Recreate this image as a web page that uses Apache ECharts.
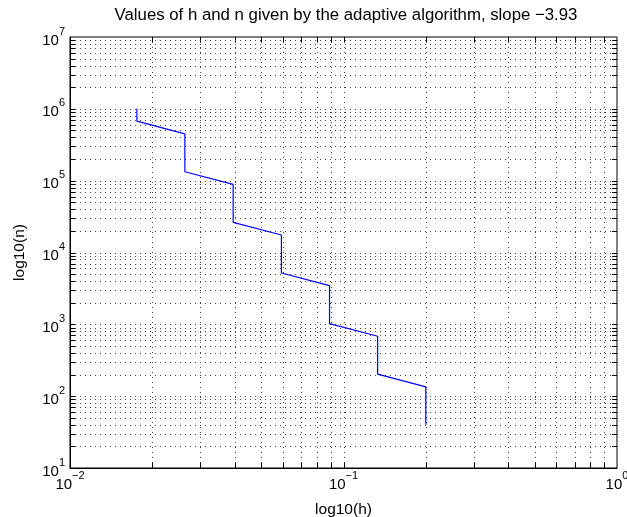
<!DOCTYPE html>
<html>
<head>
<meta charset="utf-8">
<script src="https://cdn.jsdelivr.net/npm/echarts@6/dist/echarts.min.js"></script>
<style>html,body{margin:0;padding:0;background:#fff}#c{width:627px;height:517px}</style>
</head>
<body>
<div id="c"></div>
<script>
// step size h and number of points n produced by the adaptive algorithm
const hValues = [0.2, 0.2, 0.1333, 0.1333, 0.0889, 0.0889, 0.0593, 0.0593, 0.0395, 0.0395, 0.0263, 0.0263, 0.01756, 0.01756];
const nValues = [40, 135, 203, 683, 1025, 3460, 5190, 17500, 26300, 88700, 133000, 449000, 673000, 1010000];
// axis ranges and grid/tick values
const xMajorTicks = [0.01, 0.1, 1];
const yMajorTicks = [10, 100, 1000, 1e4, 1e5, 1e6, 1e7];
const xMinorTicks = [0.02, 0.03, 0.04, 0.05, 0.06, 0.07, 0.08, 0.09, 0.2, 0.3, 0.4, 0.5, 0.6, 0.7, 0.8, 0.9];
const yMinorTicks = [20,30,40,50,60,70,80,90, 200,300,400,500,600,700,800,900, 2000,3000,4000,5000,6000,7000,8000,9000,
  2e4,3e4,4e4,5e4,6e4,7e4,8e4,9e4, 2e5,3e5,4e5,5e5,6e5,7e5,8e5,9e5, 2e6,3e6,4e6,5e6,6e6,7e6,8e6,9e6];
const titleText = 'Values of h and n given by the adaptive algorithm, slope \u22123.93';
const xName = 'log10(h)';
const yName = 'log10(n)';

const FONT = '"Liberation Sans", Arial, Helvetica, sans-serif';
const chart = echarts.init(document.getElementById('c'), null, {renderer: 'canvas'});

function powLabel(v) {
  const e = Math.round(Math.log10(v));
  const s = e < 0 ? '\u2212' + (-e) : String(e);
  return '{b|10}{s|' + s + '}';
}
const rich = {
  b: {fontSize: 15, fontFamily: FONT, color: '#000', lineHeight: 22, verticalAlign: 'bottom'},
  s: {fontSize: 11, fontFamily: FONT, color: '#000', lineHeight: 12, verticalAlign: 'top'}
};

function renderGrid(params, api) {
  const cs = params.coordSys;
  const x0 = cs.x, x1 = cs.x + cs.width, y0 = cs.y, y1 = cs.y + cs.height;
  const children = [];
  const dot = {stroke: '#444', lineWidth: 1, lineDash: [1, 4]};
  const tick = {stroke: '#000', lineWidth: 1};
  const TL = 5;
  const xs = xMinorTicks.concat(xMajorTicks);
  const ys = yMinorTicks.concat(yMajorTicks);
  xs.forEach(function (v) {
    const px = Math.round(api.coord([v, 10])[0]) + 0.5;
    if (px > x0 + 1 && px < x1 - 1) {
      children.push({type: 'line', shape: {x1: px, y1: y0, x2: px, y2: y1}, style: dot, silent: true});
      children.push({type: 'line', shape: {x1: px, y1: y1, x2: px, y2: y1 - TL}, style: tick, silent: true});
      children.push({type: 'line', shape: {x1: px, y1: y0, x2: px, y2: y0 + TL}, style: tick, silent: true});
    }
  });
  ys.forEach(function (v) {
    const py = Math.round(api.coord([0.1, v])[1]) + 0.5;
    if (py > y0 + 1 && py < y1 - 1) {
      children.push({type: 'line', shape: {x1: x0, y1: py, x2: x1, y2: py}, style: dot, silent: true});
      children.push({type: 'line', shape: {x1: x0, y1: py, x2: x0 + TL, y2: py}, style: tick, silent: true});
      children.push({type: 'line', shape: {x1: x1, y1: py, x2: x1 - TL, y2: py}, style: tick, silent: true});
    }
  });
  return {type: 'group', children: children};
}

const lineData = hValues.map(function (h, i) { return [h, nValues[i]]; });

chart.setOption({
  animation: false,
  backgroundColor: '#fff',
  textStyle: {fontFamily: FONT},
  title: {
    text: titleText, left: 341, top: 2, textAlign: 'center',
    textStyle: {fontSize: 16.8, fontWeight: 'normal', color: '#000', fontFamily: FONT}
  },
  grid: {left: 70, right: 10, top: 37, bottom: 49, containLabel: false, outerBoundsMode: 'none',
    show: true, borderColor: '#000', borderWidth: 1, backgroundColor: 'transparent'},
  xAxis: {
    type: 'log', logBase: 10, min: 0.01, max: 1, splitNumber: 2,
    name: xName, nameLocation: 'middle', nameGap: 34,
    nameTextStyle: {fontSize: 15.5, color: '#000', fontFamily: FONT},
    axisLine: {show: true, lineStyle: {color: '#000', width: 1}},
    axisTick: {show: false}, splitLine: {show: false}, minorTick: {show: false},
    axisLabel: {formatter: powLabel, rich: rich, margin: 2, showMinLabel: true, showMaxLabel: true, hideOverlap: false}
  },
  yAxis: {
    type: 'log', logBase: 10, min: 10, max: 1e7, splitNumber: 6,
    name: yName, nameLocation: 'middle', nameGap: 42,
    nameTextStyle: {fontSize: 15.5, color: '#000', fontFamily: FONT},
    axisLine: {show: true, lineStyle: {color: '#000', width: 1}},
    axisTick: {show: false}, splitLine: {show: false}, minorTick: {show: false},
    axisLabel: {formatter: powLabel, rich: rich, margin: 5, showMinLabel: true, showMaxLabel: true, hideOverlap: false}
  },
  series: [
    {
      type: 'custom', renderItem: renderGrid, data: [[0.1, 100]], z: 1, silent: true, clip: false
    },
    {
      type: 'line', data: lineData, showSymbol: false, symbol: 'none', z: 3,
      lineStyle: {color: '#0000ff', width: 1.2}, silent: true
    }
  ]
});
</script>
</body>
</html>
